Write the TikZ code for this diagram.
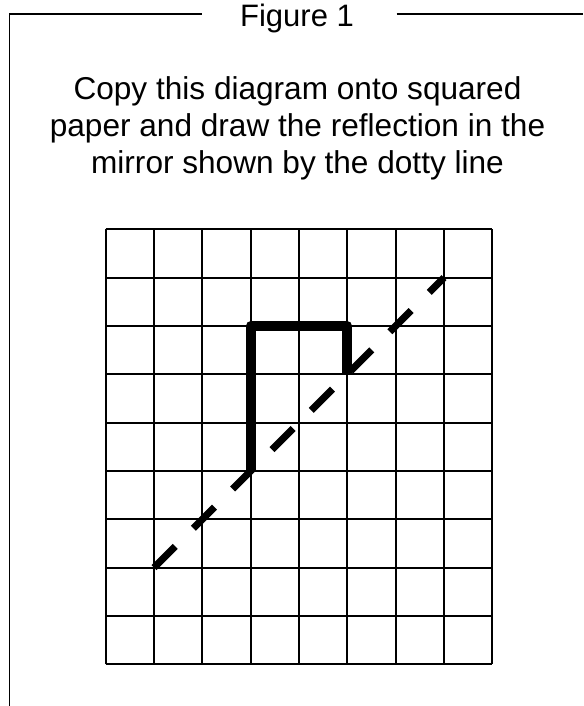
\documentclass[tikz,border=0pt]{standalone}
\usepackage{fontspec}
\setmainfont{Liberation Sans}
\begin{document}
\begin{tikzpicture}[x=1pt,y=1pt,
  frameline/.style={line width=1.5pt,black},
  gridline/.style={line width=2pt,black},
  shapeline/.style={line width=10pt,black,line join=round},
  mirrorline/.style={line width=7pt,black,dash pattern=on 30pt off 25.6pt},
  label/.style={font=\fontsize{31.6}{37}\selectfont,anchor=base,inner sep=0pt}]
\useasboundingbox (0,0) rectangle (583,706);
% frame
\coordinate (fb) at (9.3,0);
\coordinate (ftl) at (9.3,692);
\coordinate (fa) at (201.7,692);
\coordinate (fc) at (396.7,692);
\coordinate (fr) at (583,692);
\draw[frameline] (fb) -- (ftl) -- (fa);
\draw[frameline] (fc) -- (fr);
% texts
\node[label,font=\fontsize{31}{37}\selectfont] (title) at (297,679.3) {Figure 1};
\node[label] (l1) at (297.5,606.7) {Copy this diagram onto squared};
\node[label] (l2) at (297.5,569.7) {paper and draw the reflection in the};
\node[label] (l3) at (297.5,532.7) {mirror shown by the dotty line};
% grid
\begin{scope}[shift={(105.7,41.7)},x=48.33pt,y=48.33pt]
  \draw[gridline,step=1] (0,0) grid (8,9);
  \coordinate (s1) at (3,4);
  \coordinate (s2) at (3,7);
  \coordinate (s3) at (5,7);
  \coordinate (s4) at (5,6);
  \draw[shapeline] (s1) -- (s2) -- (s3) -- (s4);
  \coordinate (m1) at (1,2);
  \coordinate (m2) at (7,8);
  \draw[mirrorline] (m1) -- (m2);
\end{scope}
\end{tikzpicture}
\end{document}
